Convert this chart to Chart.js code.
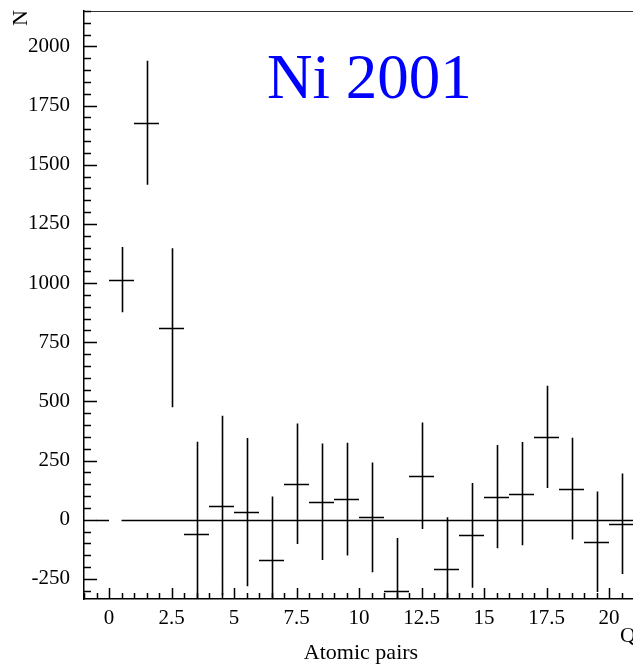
<!DOCTYPE html>
<html>
<head>
<meta charset="utf-8">
<script src="https://cdn.jsdelivr.net/npm/chart.js@4.4.0/dist/chart.umd.min.js"></script>
<style>
html,body{margin:0;padding:0;background:#fff;overflow:hidden}
</style>
</head>
<body>
<canvas id="chart" width="634" height="667"></canvas>
<script>
// bin centres, counts and errors
let binCenters = [0.5,1.5,2.5,3.5,4.5,5.5,6.5,7.5,8.5,9.5,10.5,11.5,12.5,13.5,14.5,15.5,16.5,17.5,18.5,19.5,20.5]
let counts = [1015,1678,811,-60,60,32,-170,152,76,87,10,-302,186,-208,-66,98,110,350,131,-93,-17]
let errors = [138,262,336,390,379,313,268,255,246,238,232,225,225,219,221,218,218,216,215,212,212]

// zero line, drawn in two pieces
let zeroFrom = [-0.5,0.5]
let zeroTo = [0,21]

let xTickLabels = [0,2.5,5,7.5,10,12.5,15,17.5,20]
let yTickLabels = [-250,0,250,500,750,1000,1250,1500,1750,2000]

const serif = "'Liberation Serif','Times New Roman',serif"

const rootStyle = {
id:"rootStyle",
afterDatasetsDraw(chart){
const {ctx, chartArea:a, scales:{x,y}} = chart
ctx.save()

// top frame line
ctx.strokeStyle = "#333"
ctx.lineWidth = 1
ctx.beginPath()
ctx.moveTo(a.left, a.top + 0.5)
ctx.lineTo(a.right, a.top + 0.5)
ctx.stroke()

// ticks pointing inwards
ctx.strokeStyle = "#000"
ctx.lineWidth = 1.5
ctx.beginPath()
for(let v = -300; v <= y.max; v += 50){
let py = Math.round(y.getPixelForValue(v)) + 0.5
let len = (v % 250 === 0) ? 13 : 7
ctx.moveTo(a.left, py)
ctx.lineTo(a.left + len, py)
}
for(let v = -1; v <= x.max; v += 0.5){
let px = Math.round(x.getPixelForValue(v)) + 0.5
let len = (Math.abs(v % 2.5) < 1e-9) ? 11 : 6
ctx.moveTo(px, a.bottom)
ctx.lineTo(px, a.bottom - len)
}
ctx.stroke()

// clip to plot area for data marks
ctx.beginPath()
ctx.rect(a.left, a.top, a.right - a.left, a.bottom - a.top)
ctx.clip()

ctx.strokeStyle = "#000"
ctx.lineWidth = 1.4
ctx.beginPath()
for(let i = 0; i < zeroFrom.length; i++){
let py = Math.round(y.getPixelForValue(0)) + 0.5
ctx.moveTo(x.getPixelForValue(zeroFrom[i]), py)
ctx.lineTo(x.getPixelForValue(zeroTo[i]), py)
}
ctx.stroke()

let half = (binCenters[1] - binCenters[0]) / 2
ctx.lineWidth = 1.6
ctx.beginPath()
for(let i = 0; i < binCenters.length; i++){
let cx = binCenters[i]
let px = Math.round(x.getPixelForValue(cx)) + 0.5
let py = Math.round(y.getPixelForValue(counts[i])) + 0.5
ctx.moveTo(x.getPixelForValue(cx - half), py)
ctx.lineTo(x.getPixelForValue(cx + half), py)
ctx.moveTo(px, y.getPixelForValue(counts[i] + errors[i]))
ctx.lineTo(px, y.getPixelForValue(counts[i] - errors[i]))
}
ctx.stroke()
ctx.restore()

// texts
ctx.save()
ctx.fillStyle = "#0000ff"
ctx.font = "63px " + serif
ctx.textAlign = "left"
ctx.textBaseline = "alphabetic"
ctx.fillText("Ni 2001", 267, 98)

ctx.fillStyle = "#000"
ctx.font = "22px " + serif
ctx.textAlign = "center"
ctx.textBaseline = "middle"
ctx.fillText("Atomic pairs", 361, 653)
ctx.textAlign = "left"
ctx.fillText("Q", 620, 636)

ctx.translate(21, 18)
ctx.rotate(-Math.PI / 2)
ctx.textAlign = "center"
ctx.fillText("N", 0, 0)
ctx.restore()
}
}

let ctx = document.getElementById("chart").getContext("2d")

new Chart(ctx,{
type:"scatter",
data:{
datasets:[{
label:"Ni 2001",
data:binCenters.map((c,i) => ({x:c, y:counts[i]})),
pointRadius:0,
showLine:false
}]
},
options:{
responsive:false,
animation:false,
events:[],
layout:{padding:{top:11,left:0,right:0,bottom:0}},
plugins:{legend:{display:false},tooltip:{enabled:false}},
scales:{
x:{
type:"linear",
min:-1,
max:21,
afterBuildTicks(s){ s.ticks = xTickLabels.map(v => ({value:v})) },
afterFit(s){ s.height = 68; s.paddingLeft = 0; s.paddingRight = 0 },
grid:{display:false, drawTicks:false},
border:{display:true, color:"#000", width:1.5},
ticks:{color:"#000", padding:7, maxRotation:0, autoSkip:false, font:{family:serif, size:21}, callback:v => String(v)}
},
y:{
type:"linear",
min:-335,
max:2150,
afterBuildTicks(s){ s.ticks = yTickLabels.map(v => ({value:v})) },
afterFit(s){ s.width = 84; s.paddingTop = 0; s.paddingBottom = 0 },
grid:{display:false, drawTicks:false},
border:{display:true, color:"#000", width:1.5},
ticks:{color:"#000", padding:14, autoSkip:false, font:{family:serif, size:21}, callback:v => String(v)}
}
}
},
plugins:[rootStyle]
})
</script>
</body>
</html>
